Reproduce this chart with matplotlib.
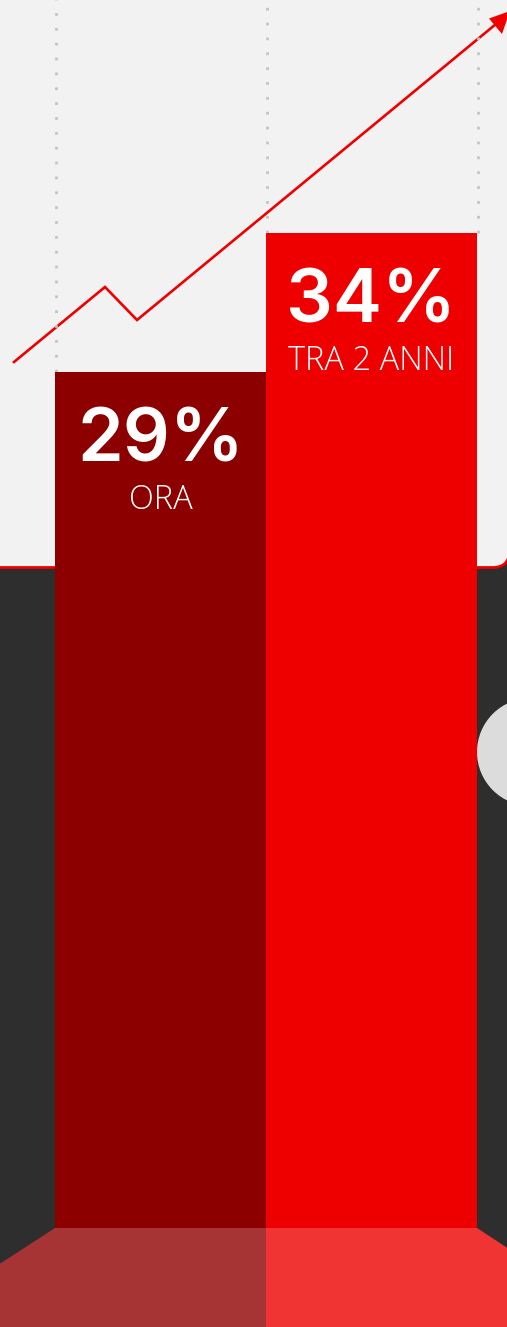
import matplotlib
matplotlib.use("Agg")
import matplotlib.pyplot as plt
import numpy as np
from matplotlib.patches import Polygon, FancyBboxPatch, Circle

# ---- data ----
categories = ["ORA", "TRA 2 ANNI"]
values = [29, 34]
value_labels = ["29%", "34%"]

# ---- figure ----
W, H = 507, 1327
DPI = 100
fig = plt.figure(figsize=(W / DPI, H / DPI), dpi=DPI)
fig.patch.set_facecolor("#2e2e2e")

# background decoration axes in pixel coordinates
bg = fig.add_axes([0, 0, 1, 1])
bg.set_xlim(0, W)
bg.set_ylim(H, 0)
bg.axis("off")
bg.set_facecolor("none")

# light panel with rounded bottom-right corner and red border
panel = FancyBboxPatch((-40, -40), W + 2.5 + 40, 567.5 + 40,
                       boxstyle="round,pad=0,rounding_size=17",
                       facecolor="#f2f2f2", edgecolor="#ee0000", linewidth=2.0, zorder=1)
bg.add_patch(panel)

# light circle at right
bg.add_patch(Circle((531, 752), 54, facecolor="#dcdcdc", edgecolor="none", zorder=1))

# floor reflection
bg.add_patch(Polygon([(55, 1228), (266, 1228), (266, H + 2), (-2, H + 2), (-2, 1265)],
                     closed=True, facecolor="#a63434", edgecolor="none", zorder=2))
bg.add_patch(Polygon([(266, 1228), (477, 1228), (509, 1249), (509, H + 2), (266, H + 2)],
                     closed=True, facecolor="#f03434", edgecolor="none", zorder=2))

# trend arrow
trend_x = [14, 105, 137, 496]
trend_y = [362, 287, 320, 24]
bg.plot(trend_x, trend_y, color="#ee0000", linewidth=1.9, solid_joinstyle="miter", zorder=3)
bg.add_patch(Polygon([(510, 11), (489, 18.5), (502, 34)], closed=True,
                     facecolor="#ee0000", edgecolor="none", zorder=3))

# ---- bars axes ----
base_px = 1228
scale_px = 27.8     # pixels per percentage point
lo = -1.79
ax = fig.add_axes([55 / W, (H - base_px) / H, (477 - 55) / W, base_px / H])
ax.set_facecolor("none")
ax.set_xlim(-0.5, 1.5)
ax.set_ylim(lo, lo + base_px / scale_px)
ax.axis("off")

x = np.arange(len(values))
# dotted guide lines from bar tops upward
guides = ax.vlines([-0.5 + 0.003, 0.5 + 0.003, 1.5 + 0.003], [values[0], values[1], values[1]],
                   lo + base_px / scale_px,
                   colors="#c4c4c4", linewidth=2.0, linestyles=[(0, (1.0, 4.35))], zorder=1)
guides.set_clip_on(False)

bar_colors = ["#8c0000", "#ee0000"]
ax.bar(x, np.array(values) - lo, bottom=lo, width=1.0, color=bar_colors,
       edgecolor="none", zorder=2)

for i, (v, lab, cat) in enumerate(zip(values, value_labels, categories)):
    ax.annotate(lab, xy=(i, v), xytext=(0, -89.5), textcoords="offset pixels",
                ha="center", va="baseline", color="white", fontsize=53,
                fontfamily="Inter", fontweight="semibold", zorder=3)
    ax.annotate(cat, xy=(i, v), xytext=(0, -137), textcoords="offset pixels",
                ha="center", va="baseline", color="white", fontsize=23.5,
                fontfamily="Open Sans", fontweight="light", zorder=3)

fig.savefig("out.png", dpi=DPI, facecolor=fig.get_facecolor())
